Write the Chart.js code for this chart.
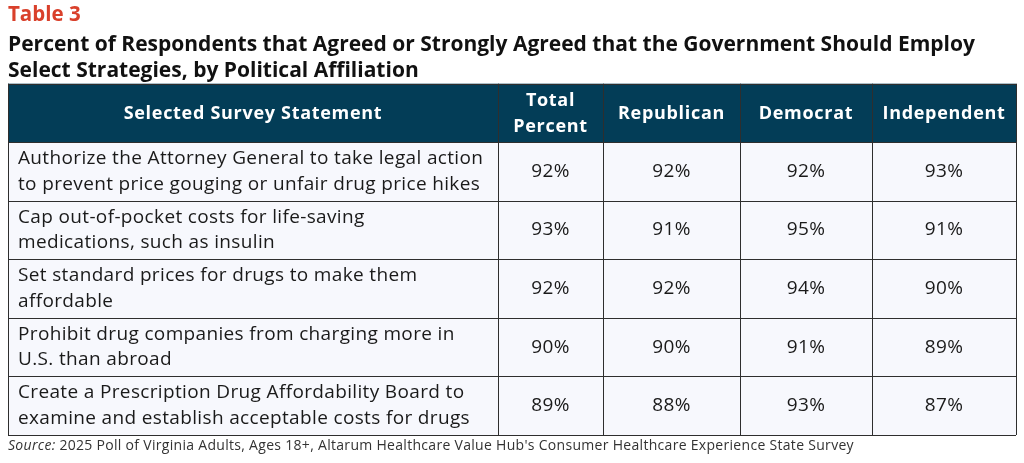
<!DOCTYPE html>
<html lang="en">
<head>
  <meta charset="UTF-8">
  <title>Table 3</title>
  <script src="https://cdn.jsdelivr.net/npm/chart.js"></script>
  <style>
    html, body {
      margin: 0;
      padding: 0;
      background: #fff;
    }
    canvas {
      display: block;
    }
  </style>
</head>
<body>
  <canvas id="table3" width="1024" height="463"></canvas>

  <script>
    // table content
    const columns = ['Selected Survey Statement', ['Total', 'Percent'], 'Republican', 'Democrat', 'Independent'];
    const statements = [
      ['Authorize the Attorney General to take legal action', 'to prevent price gouging or unfair drug price hikes'],
      ['Cap out-of-pocket costs for life-saving', 'medications, such as insulin'],
      ['Set standard prices for drugs to make them', 'affordable'],
      ['Prohibit drug companies from charging more in', 'U.S. than abroad'],
      ['Create a Prescription Drug Affordability Board to', 'examine and establish acceptable costs for drugs']
    ];
    const totalPercent = [92, 93, 92, 90, 89];
    const republican = [92, 91, 92, 90, 88];
    const democrat = [92, 95, 94, 91, 93];
    const independent = [93, 91, 90, 89, 87];
    const sourceNote = "2025 Poll of Virginia Adults, Ages 18+, Altarum Healthcare Value Hub's Consumer Healthcare Experience State Survey";

    // column edges in x-scale units
    const colEdges = [0, 490, 595, 732, 864, 1008];

    const HEADER_BG = '#033d57';
    const CELL_BG = '#f7f8fd';
    const LINE = '#2e2e2e';
    const FONT = '"Open Sans", sans-serif';

    function drawLines(ctx, lines, x, yMid, lineH) {
      lines = Array.isArray(lines) ? lines : [lines];
      const start = yMid - (lines.length - 1) * lineH / 2;
      lines.forEach((l, i) => ctx.fillText(l, x, start + i * lineH));
    }

    const tablePlugin = {
      id: 'tableCells',
      beforeDatasetsDraw(chart) {
        const ctx = chart.ctx;
        const x = chart.scales.x;
        const y = chart.scales.y;
        const series = [totalPercent, republican, democrat, independent];
        const px = v => x.getPixelForValue(v);
        const py = v => y.getPixelForValue(v);

        ctx.save();
        // header row
        ctx.fillStyle = HEADER_BG;
        ctx.fillRect(px(0), py(0), px(colEdges[5]) - px(0), py(1) - py(0));
        // body rows
        ctx.fillStyle = CELL_BG;
        ctx.fillRect(px(0), py(1), px(colEdges[5]) - px(0), py(statements.length + 1) - py(1));

        // grid lines
        ctx.strokeStyle = LINE;
        ctx.lineWidth = 1;
        ctx.beginPath();
        for (let r = 0; r <= statements.length + 1; r++) {
          const yy = Math.round(py(r)) + 0.5;
          ctx.moveTo(px(0), yy);
          ctx.lineTo(px(colEdges[5]), yy);
        }
        colEdges.forEach(e => {
          const xx = Math.round(px(e)) + 0.5;
          ctx.moveTo(xx, py(0));
          ctx.lineTo(xx, py(statements.length + 1));
        });
        ctx.stroke();

        // header text
        ctx.fillStyle = '#ffffff';
        ctx.font = 'bold 18px ' + FONT;
        ctx.letterSpacing = '0.7px';
        ctx.textAlign = 'center';
        ctx.textBaseline = 'middle';
        columns.forEach((c, i) => {
          const cx = (px(colEdges[i]) + px(colEdges[i + 1])) / 2;
          drawLines(ctx, c, cx, py(0.5) + 1, 26);
        });

        // body text
        ctx.fillStyle = '#1a1a1a';
        ctx.font = '19px ' + FONT;
        ctx.letterSpacing = '0.35px';
        statements.forEach((s, r) => {
          ctx.textAlign = 'left';
          drawLines(ctx, s, px(0) + 10, py(r + 1.5), 25.5);
          ctx.textAlign = 'center';
          series.forEach((vals, c) => {
            const cx = (px(colEdges[c + 1]) + px(colEdges[c + 2])) / 2;
            ctx.fillText(vals[r] + '%', cx, py(r + 1.5));
          });
        });
        ctx.restore();
      },
      afterDraw(chart) {
        const ctx = chart.ctx;
        const left = chart.scales.x.getPixelForValue(0);
        ctx.save();
        ctx.fillStyle = '#333333';
        ctx.textBaseline = 'middle';
        ctx.textAlign = 'left';
        ctx.letterSpacing = '0.3px';
        ctx.font = 'italic 14px ' + FONT;
        ctx.fillText('Source:', left, 446);
        const w = ctx.measureText('Source: ').width;
        ctx.font = '14px ' + FONT;
        ctx.fillText(sourceNote, left + w, 446);
        ctx.restore();
      }
    };

    new Chart(document.getElementById('table3'), {
      type: 'scatter',
      data: { datasets: [] },
      options: {
        responsive: false,
        animation: false,
        layout: { padding: { left: 8, right: 8, top: 0, bottom: 28 } },
        scales: {
          x: { type: 'linear', min: colEdges[0], max: colEdges[5], display: false },
          y: { type: 'linear', min: 0, max: statements.length + 1, reverse: true, display: false }
        },
        plugins: {
          legend: { display: false },
          tooltip: { enabled: false },
          title: {
            display: true,
            text: 'Table 3',
            align: 'start',
            color: '#d9402b',
            font: { family: FONT, size: 20.5, weight: 'bold', lineHeight: 1.2 },
            padding: { top: 3, bottom: 4 }
          },
          subtitle: {
            display: true,
            text: ['Percent of Respondents that Agreed or Strongly Agreed that the Government Should Employ',
                   'Select Strategies, by Political Affiliation'],
            align: 'start',
            color: '#111111',
            font: { family: FONT, size: 21, weight: 'bold', lineHeight: 1.24 },
            padding: { top: 0, bottom: 0 }
          }
        }
      },
      plugins: [tablePlugin]
    });
  </script>
</body>
</html>
